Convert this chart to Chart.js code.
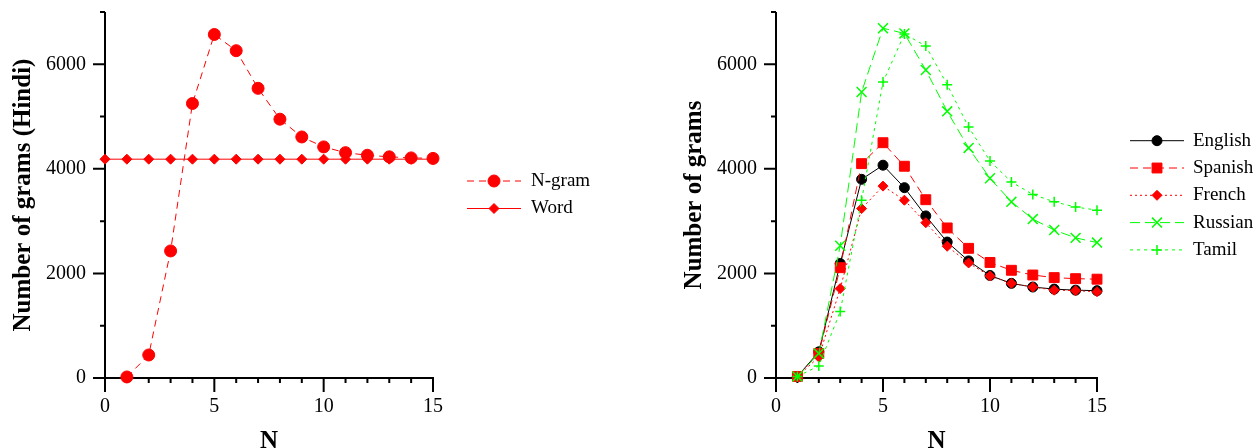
<!DOCTYPE html>
<html>
<head>
<meta charset="utf-8">
<script src="https://cdn.jsdelivr.net/npm/chart.js"></script>
<style>
    html, body { margin: 0; padding: 0; background: #fff; overflow: hidden; width: 1259px; height: 448px; }
    canvas { position: absolute; top: 0; }
    #leftChart { left: 0; }
    #rightChart { left: 630px; }
</style>
</head>
<body>
<canvas id="leftChart" width="630" height="470"></canvas>
<canvas id="rightChart" width="629" height="470"></canvas>
<script>
// Data
const nWord = [0, 1, 2, 3, 4, 5, 6, 7, 8, 9, 10, 11, 12, 13, 14, 15];
const nGram = [1, 2, 3, 4, 5, 6, 7, 8, 9, 10, 11, 12, 13, 14, 15];

// Left panel: Hindi
const hindiNgram = [20, 440, 2430, 5250, 6570, 6260, 5540, 4950, 4610, 4420, 4310, 4260, 4230, 4210, 4200];
const hindiWord = [4185, 4185, 4185, 4185, 4185, 4185, 4185, 4185, 4185, 4185, 4185, 4185, 4185, 4185, 4185, 4185];

// Right panel: other languages
const english = [30, 500, 2190, 3800, 4070, 3640, 3100, 2600, 2240, 1960, 1810, 1740, 1700, 1680, 1670];
const spanish = [30, 470, 2110, 4100, 4500, 4050, 3410, 2870, 2480, 2210, 2060, 1970, 1920, 1900, 1890];
const french = [30, 400, 1710, 3240, 3670, 3400, 2970, 2520, 2200, 1950, 1810, 1740, 1680, 1670, 1650];
const russian = [30, 470, 2530, 5470, 6690, 6590, 5890, 5100, 4400, 3820, 3370, 3040, 2830, 2680, 2590];
const tamil = [30, 230, 1270, 3400, 5660, 6580, 6350, 5610, 4800, 4150, 3750, 3510, 3370, 3270, 3210];

// Axis ticks
const xLabelTicks = [0, 5, 10, 15];
const yLabelTicks = [0, 2000, 4000, 6000];

const RED = '#ff0000';
const GREEN = '#00ff00';
const BLACK = '#000000';

Chart.defaults.font.family = '"Liberation Serif", "Times New Roman", serif';
Chart.defaults.color = '#000';

function toPoints(xs, ys) {
    return xs.map((x, i) => ({ x: x, y: ys[i] }));
}

function series(label, xs, ys, color, dash, style, radius, order) {
    return {
        label: label,
        data: toPoints(xs, ys),
        borderColor: color,
        backgroundColor: color,
        borderWidth: 1,
        borderDash: dash,
        pointStyle: style,
        pointRadius: radius,
        pointBackgroundColor: color,
        pointBorderColor: color,
        pointBorderWidth: (style === 'cross' || style === 'crossRot') ? 1.5 : 1,
        tension: 0,
        clip: false,
        order: order
    };
}

// Axis lines with long major / short minor ticks, drawn under the data
const axesPlugin = {
    id: 'frameAxes',
    beforeDatasetsDraw(chart) {
        const { ctx, scales: { x, y } } = chart;
        const x0 = x.getPixelForValue(0);
        const y0 = y.getPixelForValue(0);
        ctx.save();
        ctx.strokeStyle = BLACK;
        ctx.lineWidth = 2;
        ctx.beginPath();
        ctx.moveTo(x0, y.getPixelForValue(y.max));
        ctx.lineTo(x0, y0);
        ctx.moveTo(x0 - 1, y0);
        ctx.lineTo(x.getPixelForValue(x.max) + 1, y0);
        y.ticks.forEach(t => {
            const py = y.getPixelForValue(t.value);
            const len = yLabelTicks.includes(t.value) ? 12 : 5;
            ctx.moveTo(x0 - len, py);
            ctx.lineTo(x0, py);
        });
        x.ticks.forEach(t => {
            const px = x.getPixelForValue(t.value);
            const len = xLabelTicks.includes(t.value) ? 14 : 5;
            ctx.moveTo(px, y0);
            ctx.lineTo(px, y0 + len);
        });
        ctx.stroke();
        ctx.restore();
    }
};

// Legend with line sample + marker, like the original plot
const legendPlugin = {
    id: 'sampleLegend',
    afterDraw(chart, args, opts) {
        const ctx = chart.ctx;
        const sets = chart.data.datasets;
        ctx.save();
        sets.forEach((ds, i) => {
            const yy = opts.top + i * opts.step;
            ctx.strokeStyle = ds.borderColor;
            ctx.lineWidth = 1;
            ctx.setLineDash(ds.borderDash || []);
            ctx.beginPath();
            ctx.moveTo(opts.lineStart, yy);
            ctx.lineTo(opts.lineEnd, yy);
            ctx.stroke();
            ctx.setLineDash([]);
            ctx.fillStyle = ds.pointBackgroundColor;
            ctx.strokeStyle = ds.pointBorderColor;
            ctx.lineWidth = ds.pointBorderWidth;
            Chart.helpers.drawPoint(ctx, {
                pointStyle: ds.pointStyle,
                radius: ds.pointRadius,
                rotation: 0,
                borderWidth: ds.pointBorderWidth
            }, (opts.lineStart + opts.lineEnd) / 2, yy);
            ctx.fillStyle = BLACK;
            ctx.font = '19px "Liberation Serif", serif';
            ctx.textBaseline = 'middle';
            ctx.textAlign = 'left';
            ctx.fillText(ds.label, opts.textX, yy);
        });
        ctx.restore();
    }
};

function makeScales(yTitle, yWidth, yTitlePad) {
    return {
        x: {
            type: 'linear',
            min: 0,
            max: 15,
            grid: { display: false, drawTicks: false },
            border: { display: false },
            ticks: {
                stepSize: 1,
                autoSkip: false,
                maxRotation: 0,
                padding: 17,
                font: { size: 20 },
                color: BLACK,
                callback: v => xLabelTicks.includes(v) ? String(v) : ''
            },
            title: {
                display: true,
                text: 'N',
                color: BLACK,
                font: { size: 25, weight: 'bold', lineHeight: 1.2 },
                padding: { top: 0, bottom: 13 }
            },
            afterFit(scale) {
                scale.height = 92;
                scale.paddingLeft = 0;
                scale.paddingRight = 0;
            }
        },
        y: {
            type: 'linear',
            min: 0,
            max: 7000,
            grid: { display: false, drawTicks: false },
            border: { display: false },
            ticks: {
                stepSize: 1000,
                padding: 19,
                font: { size: 20 },
                color: BLACK,
                callback: v => yLabelTicks.includes(v) ? String(v) : ''
            },
            title: {
                display: true,
                text: yTitle,
                color: BLACK,
                font: { size: 25, weight: 'bold', lineHeight: 1.2 },
                padding: { top: yTitlePad, bottom: 0 }
            },
            afterFit(scale) {
                scale.width = yWidth;
                scale.paddingTop = 0;
                scale.paddingBottom = 0;
            }
        }
    };
}

new Chart(document.getElementById('leftChart'), {
    type: 'line',
    data: {
        datasets: [
            series('N-gram', nGram, hindiNgram, RED, [7, 5], 'circle', 6, 1),
            series('Word', nWord, hindiWord, RED, [], 'rectRot', 5, 2)
        ]
    },
    options: {
        responsive: false,
        animation: false,
        layout: { padding: { top: 12, right: 197, bottom: 0, left: 0 } },
        plugins: {
            legend: { display: false },
            tooltip: { enabled: false },
            sampleLegend: { top: 181, step: 27.5, lineStart: 467, lineEnd: 521, textX: 531 }
        },
        scales: makeScales('Number of grams (Hindi)', 105, 9)
    },
    plugins: [axesPlugin, legendPlugin]
});

new Chart(document.getElementById('rightChart'), {
    type: 'line',
    data: {
        datasets: [
            series('English', nGram, english, BLACK, [], 'circle', 5, 5),
            series('Spanish', nGram, spanish, RED, [8, 5], 'rect', 7, 4),
            series('French', nGram, french, RED, [2, 3], 'rectRot', 5, 3),
            series('Russian', nGram, russian, GREEN, [10, 5], 'crossRot', 7, 2),
            series('Tamil', nGram, tamil, GREEN, [3, 4], 'cross', 5, 1)
        ]
    },
    options: {
        responsive: false,
        animation: false,
        layout: { padding: { top: 12, right: 162, bottom: 0, left: 0 } },
        plugins: {
            legend: { display: false },
            tooltip: { enabled: false },
            sampleLegend: { top: 140.7, step: 27.3, lineStart: 500, lineEnd: 554, textX: 563 }
        },
        scales: makeScales('Number of grams', 146, 50)
    },
    plugins: [axesPlugin, legendPlugin]
});
</script>
</body>
</html>
